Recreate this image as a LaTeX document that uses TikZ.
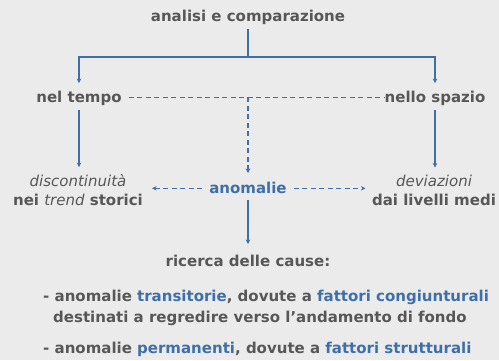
\documentclass[tikz,border=0pt]{standalone}
\usepackage{fontspec}
\setmainfont{DejaVu Sans}
\usetikzlibrary{arrows.meta}
\definecolor{bg}{HTML}{EBEBEB}
\definecolor{txt}{HTML}{575757}
\definecolor{blu}{HTML}{3F6FA8}
\newcommand{\itl}[1]{{\mdseries\itshape #1}}
\begin{document}
\begin{tikzpicture}[x=1pt,y=-1pt,
  lbl/.style={font=\bfseries\fontsize{15}{19}\selectfont, text=txt, inner sep=0pt, align=center},
  conn/.style={draw=blu, line width=1.2pt},
  arr/.style={conn, -{Stealth[length=4.5pt,width=4.5pt]}},
  darr/.style={arr, dash pattern=on 5pt off 3.5pt},
  dline/.style={conn, dash pattern=on 5pt off 3.5pt}]
\fill[bg] (0,0) rectangle (499,360);
\useasboundingbox (0,0) rectangle (499,360);
\node[lbl] (top) at (248,17) {analisi e comparazione};
\node[lbl] (tempo) at (79,98) {nel tempo};
\node[lbl] (spazio) at (435,98) {nello spazio};
\node[lbl] (disc) at (78,190) {\itl{discontinuità}\\nei \itl{trend} storici};
\node[lbl] (dev) at (434,190) {\itl{deviazioni}\\dai livelli medi};
\node[lbl, text=blu] (anom) at (248,188) {anomalie};
\node[lbl] (ric) at (248,261) {ricerca delle cause:};
\node[lbl, anchor=west] (l1) at (43,297) {- anomalie \textcolor{blu}{transitorie}, dovute a \textcolor{blu}{fattori congiunturali}};
\node[lbl, anchor=west] (l2) at (53,318) {destinati a regredire verso l’andamento di fondo};
\node[lbl, anchor=west] (l3) at (43,349) {- anomalie \textcolor{blu}{permanenti}, dovute a \textcolor{blu}{fattori strutturali}};
\coordinate (j) at (248,57);
\coordinate (dj) at (248,97.3);
\draw[conn] ([yshift=-4.5pt]top.south) -- (j);
\draw[arr] (j) -| ([yshift=7.5pt]tempo.north);
\draw[arr] (j) -| ([yshift=7.5pt]spazio.north);
\draw[dline] ([xshift=7pt,yshift=0.7pt]tempo.east) -- ([yshift=0.7pt]spazio.west);
\draw[darr] (dj) -- ([yshift=9pt]anom.north);
\draw[arr] ([yshift=-4.5pt]tempo.south) -- ([yshift=7pt]tempo.south |- disc.north);
\draw[arr] ([yshift=-4.5pt]spazio.south) -- ([yshift=7pt]spazio.south |- dev.north);
\draw[darr] ([xshift=-7pt,yshift=-0.3pt]anom.west) -- ([xshift=9pt,yshift=1.7pt]disc.east);
\draw[darr] ([xshift=7pt,yshift=-0.3pt]anom.east) -- ([xshift=-6.5pt,yshift=1.7pt]dev.west);
\draw[arr] ([yshift=-6pt]anom.south) -- ([yshift=11pt]ric.north);
\end{tikzpicture}
\end{document}
